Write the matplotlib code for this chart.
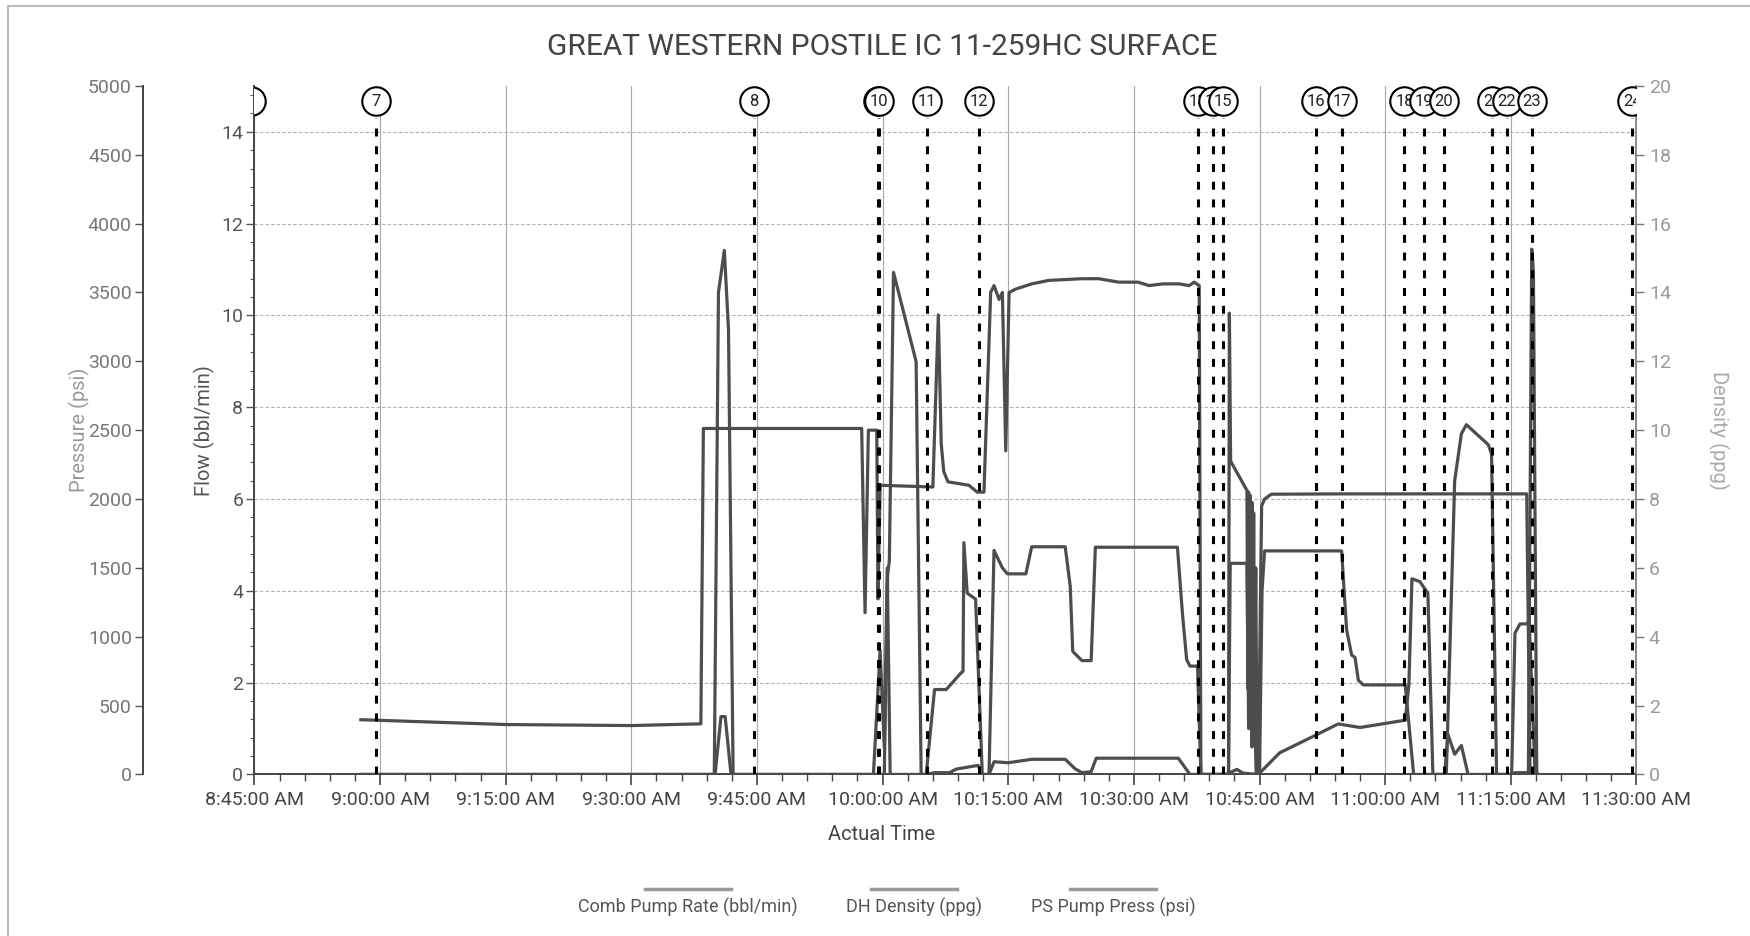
import pandas as pd
import matplotlib
matplotlib.use("Agg")
import matplotlib.pyplot as plt
import matplotlib.dates as mdates
from matplotlib.ticker import MultipleLocator, FuncFormatter
from matplotlib.lines import Line2D
from matplotlib.patches import Rectangle
from matplotlib import font_manager

names = {f.name for f in font_manager.fontManager.ttflist}
font = "Liberation Sans Narrow" if "Liberation Sans Narrow" in names else "Roboto"
plt.rcParams["font.family"] = [font, "DejaVu Sans"]

day = "2015-06-01 "

# DH Density (ppg)
dens_t = ["08:57:42", "09:15:00", "09:30:00", "09:38:18", "09:38:36", "09:57:30", "09:57:54",
          "09:58:18", "09:59:18", "09:59:27", "09:59:42", "10:06:00", "10:06:39", "10:07:00",
          "10:07:18", "10:07:48", "10:10:18", "10:11:18", "10:12:06", "10:12:54", "10:13:18",
          "10:13:54", "10:14:18", "10:14:42", "10:15:06", "10:15:54", "10:17:48", "10:19:48",
          "10:23:48", "10:25:48", "10:28:12", "10:30:30", "10:31:48", "10:33:30", "10:35:24",
          "10:36:36", "10:37:12", "10:37:48", "10:38:00", "10:41:18", "10:41:24", "10:41:33",
          "10:43:30", "10:43:36", "10:43:42", "10:43:48", "10:43:54", "10:44:00", "10:44:06",
          "10:44:12", "10:44:18", "10:44:24", "10:44:33", "10:44:42", "10:44:51", "10:45:15",
          "10:45:36", "10:46:24", "10:55:00", "11:05:00", "11:16:54", "11:17:18", "11:18:12"]
dens_v = [1.59, 1.45, 1.42, 1.47, 10.05, 10.05, 4.7, 10.0, 10.0, 5.1, 8.4, 8.35, 13.35, 9.6,
          8.8, 8.5, 8.4, 8.2, 8.2, 14.0, 14.2, 13.8, 14.0, 9.4, 14.0, 14.1, 14.25, 14.35,
          14.4, 14.4, 14.3, 14.3, 14.2, 14.25, 14.25, 14.2, 14.3, 14.2, 0, 0, 13.4, 9.1,
          8.25, 2.5, 8.2, 2.2, 8.1, 2.3, 7.9, 2.1, 7.6, 2.0, 6.0, 0.4, 0, 7.8,
          8.0, 8.14, 8.15, 8.15, 8.15, 0, 0]

# Comb Pump Rate (bbl/min)
rate_t = ["08:57:42", "09:40:00", "09:40:42", "09:41:12", "09:41:54", "09:58:54", "09:59:42",
          "10:00:12", "10:00:33", "10:00:54", "10:05:12", "10:06:12", "10:07:36", "10:09:18",
          "10:09:36", "10:09:42", "10:10:06", "10:11:06", "10:11:54", "10:12:42", "10:13:18",
          "10:14:18", "10:14:54", "10:17:06", "10:17:48", "10:21:48", "10:22:24", "10:22:42",
          "10:23:48", "10:24:54", "10:25:24", "10:35:12", "10:35:48", "10:36:18", "10:36:42",
          "10:37:36", "10:38:00", "10:41:18", "10:41:30", "10:43:30", "10:43:42", "10:43:54",
          "10:44:06", "10:44:18", "10:44:36", "10:45:00", "10:45:18", "10:45:36", "10:54:48",
          "10:55:24", "10:56:00", "10:56:24", "10:56:48", "10:57:24", "11:02:24", "11:03:24",
          "11:07:06", "11:07:30", "11:08:18", "11:09:06", "11:09:54", "11:15:06", "11:15:30",
          "11:16:06", "11:16:54", "11:17:12", "11:17:54", "11:18:12"]
rate_v = [0, 0, 1.26, 1.26, 0, 0, 2.7, 0.6, 4.5, 0, 0, 1.85, 1.85, 2.2,
          2.25, 5.05, 3.95, 3.82, 0, 0, 4.88, 4.5, 4.37, 4.37, 4.96, 4.96, 4.1, 2.68,
          2.48, 2.48, 4.95, 4.95, 3.5, 2.5, 2.36, 2.36, 0, 0, 4.6, 4.6, 1.0, 3.6,
          0.6, 2.2, 0, 0, 4.0, 4.87, 4.87, 3.15, 2.6, 2.55, 2.05, 1.95, 1.95, 0,
          0, 0.87, 0.44, 0.63, 0, 0, 3.08, 3.28, 3.28, 3.35, 0, 0]

# PS Pump Press (psi)
press_t = ["08:57:42", "09:39:54", "09:40:24", "09:41:06", "09:41:36", "09:42:09", "10:00:12",
           "10:00:36", "10:00:48", "10:01:18", "10:04:00", "10:04:36", "10:05:12", "10:06:12",
           "10:08:00", "10:08:48", "10:11:24", "10:11:54", "10:12:42", "10:13:18", "10:15:00",
           "10:17:48", "10:21:48", "10:23:00", "10:23:48", "10:24:54", "10:25:30", "10:35:18",
           "10:36:42", "10:41:00", "10:42:18", "10:43:00", "10:44:51", "10:47:24", "10:51:24",
           "10:54:24", "10:57:00", "11:02:24", "11:02:50", "11:03:12", "11:04:09", "11:05:06",
           "11:05:42", "11:07:18", "11:08:18", "11:09:06", "11:09:42", "11:12:18", "11:12:42",
           "11:13:18", "11:15:06", "11:15:30", "11:16:54", "11:17:06", "11:17:30", "11:17:42",
           "11:18:06", "11:18:12"]
press_v = [0, 0, 3500, 3806, 3230, 0, 0, 1450, 1550, 3646, 2997, 0, 0, 13,
           13, 39, 66, 0, 0, 92, 85, 110, 110, 40, 13, 20, 118, 118,
           0, 0, 37, 10, 0, 157, 276, 367, 341, 394, 650, 1421, 1400, 1316,
           0, 0, 2132, 2474, 2540, 2395, 2329, 0, 0, 13, 13, 0, 3815, 3650,
           0, 0]

# event markers
event_labels = ["6", "7", "8", "9", "10", "11", "12", "13", "14", "15", "16", "17", "18",
                "19", "20", "21", "22", "23", "24"]
event_times = ["08:44:32", "08:59:30", "09:44:36", "09:59:30", "09:59:36", "10:05:18",
               "10:11:30", "10:37:42", "10:39:30", "10:40:36", "10:51:42", "10:54:48",
               "11:02:18", "11:04:36", "11:07:00", "11:12:48", "11:14:30", "11:17:30",
               "11:29:30"]


def to_num(times):
    return mdates.date2num(pd.to_datetime([day + s for s in times]).to_pydatetime())


def clock(x, pos=None):
    d = mdates.num2date(x)
    h = d.hour % 12 or 12
    return f"{h}:{d.minute:02d}:{d.second:02d} {'AM' if d.hour < 12 else 'PM'}"


line_col = "#4d4d4d"
lw = 2.3
fig = plt.figure(figsize=(17.5, 9.36), dpi=100)
ax = fig.add_axes([0.1454, 0.1726, 0.7897, 0.7356])
ax_p = ax.twinx()
ax_d = ax.twinx()

# flow axis (main)
ax.plot(to_num(rate_t), rate_v, color=line_col, lw=lw, zorder=3)
ax.set_ylim(0, 15)
ax.set_xlim(to_num(["08:45:00", "11:30:00"]))
ax.xaxis.set_major_locator(mdates.MinuteLocator(byminute=[0, 15, 30, 45]))
ax.xaxis.set_minor_locator(mdates.MinuteLocator(byminute=range(0, 60, 3)))
ax.xaxis.set_major_formatter(FuncFormatter(clock))
ax.yaxis.set_minor_locator(MultipleLocator(0.4))
ax.set_yticks(range(0, 15, 2))
ax.grid(axis="x", which="major", color="#a8a8a8", lw=0.8)
ax.grid(axis="y", which="major", color="#b0b0b0", lw=0.8, ls=(0, (3, 2)))
ax.tick_params(axis="x", which="major", length=8, width=1.2, color="#444", labelsize=14,
               labelcolor="#444", pad=4)
ax.tick_params(axis="x", which="minor", length=5, width=1.0, color="#444")
ax.tick_params(axis="y", which="major", length=6, width=1.0, color="#555", labelsize=14,
               labelcolor="#555", pad=2)
ax.tick_params(axis="y", which="minor", length=3, width=0.8, color="#555")
for s in ["top", "right"]:
    ax.spines[s].set_visible(False)
for s in ["left", "bottom"]:
    ax.spines[s].set_color("#444")
    ax.spines[s].set_linewidth(1.4)
ax.set_ylabel("Flow (bbl/min)", fontsize=14.5, color="#555", va="center")
ax.yaxis.set_label_coords(-0.0365, 0.5)

# pressure axis, offset to the left
ax_p.plot(to_num(press_t), press_v, color=line_col, lw=lw, zorder=3)
ax_p.set_ylim(0, 5000)
ax_p.yaxis.set_ticks_position("left")
ax_p.yaxis.set_label_position("left")
ax_p.spines["left"].set_position(("axes", -0.0807))
for s in ["top", "right", "bottom"]:
    ax_p.spines[s].set_visible(False)
ax_p.spines["left"].set_visible(True)
ax_p.spines["left"].set_color("#444")
ax_p.spines["left"].set_linewidth(1.4)
ax_p.set_yticks(range(0, 5001, 500))
ax_p.tick_params(axis="y", length=6, width=1.0, color="#555", labelsize=14,
                 labelcolor="#777", pad=2)
ax_p.set_ylabel("Pressure (psi)", fontsize=14.5, color="#999", va="center")
ax_p.yaxis.set_label_coords(-0.1263, 0.5)

# density axis on the right
ax_d.plot(to_num(dens_t), dens_v, color=line_col, lw=lw, zorder=3)
ax_d.set_ylim(0, 20)
ax_d.set_yticks(range(0, 21, 2))
for s in ["top", "left", "bottom"]:
    ax_d.spines[s].set_visible(False)
ax_d.spines["right"].set_color("#777")
ax_d.spines["right"].set_linewidth(1.2)
ax_d.tick_params(axis="y", length=6, width=1.0, color="#777", labelsize=14,
                 labelcolor="#999", pad=3)
ax_d.set_ylabel("Density (ppg)", fontsize=14.5, color="#aaa", rotation=270, va="center")
ax_d.yaxis.set_label_coords(1.0597, 0.5)

# event markers: dashed lines with numbered circles
ev_x = to_num(event_times)
for i, (x, lab) in enumerate(zip(ev_x, event_labels)):
    ax_d.plot([x, x], [0, 19.07], color="black", lw=2.2, ls=(0, (2.6, 3.2)),
              zorder=5, clip_on=True)
    ax_d.plot([x], [19.56], marker="o", ms=20.5, mfc="white", mec="black", mew=1.5,
              zorder=10 + 2 * i, clip_on=True)
    if lab != "6":
        ax_d.text(x, 19.56, lab, ha="center", va="center", fontsize=12, color="#222",
                  zorder=11 + 2 * i, clip_on=True)

# titles and labels
fig.text(0.504, 0.950, "GREAT WESTERN POSTILE IC 11-259HC SURFACE", ha="center",
         va="center", fontsize=21.5, color="#444")
fig.text(0.504, 0.108, "Actual Time", ha="center", va="center", fontsize=14.5, color="#444")

# legend: line above each label
leg_names = ["Comb Pump Rate (bbl/min)", "DH Density (ppg)", "PS Pump Press (psi)"]
leg_cx = [688, 914, 1113]
for name, cx in zip(leg_names, leg_cx):
    fig.add_artist(Line2D([(cx - 43) / 1750, (cx + 43) / 1750], [0.0497, 0.0497],
                          color="#9a9a9a", lw=2.5))
    fig.text(cx / 1750, 0.031, name, ha="center", va="center", fontsize=13, color="#555")

fig.add_artist(Rectangle((8 / 1750, -0.05), 1.1, 1.0436, transform=fig.transFigure,
                         fill=False, ec="#bbbbbb", lw=1.5))

fig.savefig("out.png", dpi=100)
